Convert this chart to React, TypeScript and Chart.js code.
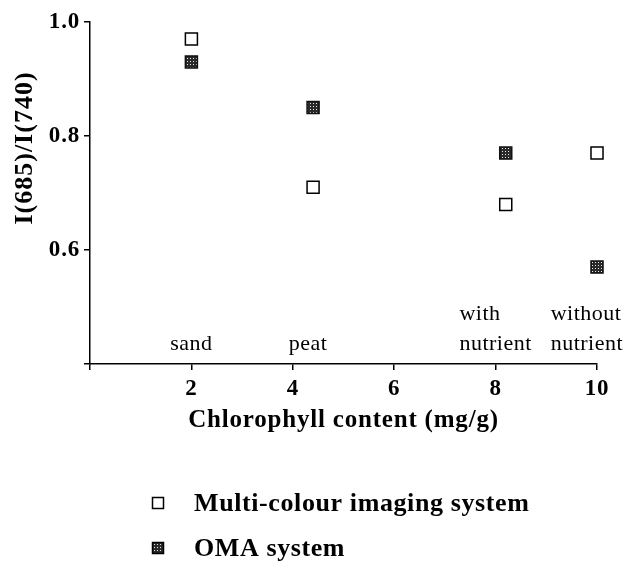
import React, { useEffect, useRef } from 'react';
import { Chart, registerables } from 'chart.js';

Chart.register(...registerables);

// ---- data ----
const chlorophyllMulti = [2, 4.4, 8.2, 10];
const ratioMulti = [0.97, 0.71, 0.68, 0.77];
const chlorophyllOMA = [2, 4.4, 8.2, 10];
const ratioOMA = [0.93, 0.85, 0.77, 0.57];
const seriesLabels = ['Multi-colour imaging system', 'OMA system'];
const substrateLabels = [['sand'], ['peat'], ['with', 'nutrient'], ['without', 'nutrient']];
const substrateX = [2, 4.3, 8, 9.8];
const yAxisTitle = 'I(685)/I(740)';
const xAxisTitle = 'Chlorophyll content (mg/g)';

const SERIF = '"Liberation Serif", "Times New Roman", Times, serif';
const W = 627;
const H = 561;

const annotationPlugin = {
  id: 'annotations',
  beforeDraw(chart: any) {
    (chart.ctx as any).letterSpacing = '0.8px';
  },
  afterDraw(chart: any) {
    const { ctx, chartArea, scales } = chart;
    ctx.save();
    ctx.fillStyle = '#000';
    // substrate labels
    ctx.font = `22px ${SERIF}`;
    (ctx as any).letterSpacing = '0.5px';
    ctx.textAlign = 'left';
    ctx.textBaseline = 'alphabetic';
    substrateLabels.forEach((lines, i) => {
      const cx = scales.x.getPixelForValue(substrateX[i]);
      const w = Math.max(...lines.map((l) => ctx.measureText(l).width));
      const left = cx - w / 2;
      lines.forEach((l, j) => {
        ctx.fillText(l, left, chartArea.bottom - 14 - (lines.length - 1 - j) * 30);
      });
    });
    // y axis title
    ctx.save();
    ctx.font = `bold 26px ${SERIF}`;
    (ctx as any).letterSpacing = '1px';
    ctx.translate(25, 148);
    ctx.rotate(-Math.PI / 2);
    ctx.textAlign = 'center';
    ctx.textBaseline = 'middle';
    ctx.fillText(yAxisTitle, 0, 0);
    ctx.restore();
    // legend
    chart.data.datasets.forEach((ds: any, i: number) => {
      const cx = 158;
      const cy = 503 + i * 45;
      const s = 11;
      ctx.fillStyle = ds.pointBackgroundColor;
      ctx.fillRect(cx - s / 2, cy - s / 2, s, s);
      ctx.strokeStyle = '#000';
      ctx.lineWidth = 1.5;
      ctx.strokeRect(cx - s / 2, cy - s / 2, s, s);
      ctx.fillStyle = '#000';
      ctx.font = `bold 26px ${SERIF}`;
      (ctx as any).letterSpacing = '0.6px';
      ctx.textAlign = 'left';
      ctx.textBaseline = 'middle';
      ctx.fillText(ds.label, 194, cy + 1);
    });
    ctx.restore();
  },
};

export default function App() {
  const ref = useRef<HTMLCanvasElement | null>(null);

  useEffect(() => {
    const canvas = ref.current;
    if (!canvas) return;
    const ctx = canvas.getContext('2d')!;
    const pc = document.createElement('canvas');
    pc.width = 3;
    pc.height = 3;
    const p = pc.getContext('2d')!;
    p.fillStyle = '#2a2a2a';
    p.fillRect(0, 0, 3, 3);
    p.fillStyle = '#e8e8e8';
    p.fillRect(1, 1, 1, 1);
    const pattern = ctx.createPattern(pc, 'repeat');

    const chart = new Chart(canvas, {
      type: 'scatter',
      data: {
        datasets: [
          {
            label: seriesLabels[0],
            data: chlorophyllMulti.map((x, i) => ({ x, y: ratioMulti[i] })),
            clip: false,
            pointStyle: 'rect',
            pointRadius: 8.5,
            pointHoverRadius: 8.5,
            pointBorderWidth: 1.5,
            pointBorderColor: '#000',
            pointBackgroundColor: '#fff',
          },
          {
            label: seriesLabels[1],
            data: chlorophyllOMA.map((x, i) => ({ x, y: ratioOMA[i] })),
            clip: false,
            pointStyle: 'rect',
            pointRadius: 8.5,
            pointHoverRadius: 8.5,
            pointBorderWidth: 1.5,
            pointBorderColor: '#111',
            pointBackgroundColor: pattern as any,
          },
        ],
      },
      options: {
        animation: false,
        responsive: false,
        events: [],
        layout: { padding: { top: 22, right: 30, bottom: 125, left: 0 } },
        plugins: { legend: { display: false }, tooltip: { enabled: false } },
        scales: {
          x: {
            type: 'linear',
            min: 0,
            max: 10,
            afterFit: (s: any) => {
              s.height = 72;
            },
            border: { display: true, color: '#000', width: 1.5 },
            grid: { display: true, drawOnChartArea: false, drawTicks: true, tickLength: 6, color: '#000', lineWidth: 1.5 },
            ticks: {
              stepSize: 2,
              padding: 5,
              color: '#000',
              font: { family: SERIF, size: 23, weight: 'bold' },
              callback: (v: any) => (Number(v) === 0 ? '' : String(v)),
            },
            title: {
              display: true,
              text: xAxisTitle,
              color: '#000',
              padding: 0,
              font: { family: SERIF, size: 25, weight: 'bold' },
            },
          },
          y: {
            type: 'linear',
            min: 0.4,
            max: 1.0,
            afterFit: (s: any) => {
              s.width = 90;
            },
            border: { display: true, color: '#000', width: 1.5 },
            grid: { display: true, drawOnChartArea: false, drawTicks: true, tickLength: 6, color: '#000', lineWidth: 1.5 },
            ticks: {
              stepSize: 0.2,
              padding: 4,
              color: '#000',
              font: { family: SERIF, size: 23, weight: 'bold' },
              callback: (v: any) => (Number(v) < 0.5 ? '' : Number(v).toFixed(1)),
            },
          },
        },
      },
      plugins: [annotationPlugin],
    });
    return () => chart.destroy();
  }, []);

  return (
    <div style={{ position: 'fixed', left: 0, top: 0, width: W, height: H, background: '#fff' }}>
      <canvas ref={ref} width={W} height={H} style={{ display: 'block', width: W, height: H }} />
    </div>
  );
}
